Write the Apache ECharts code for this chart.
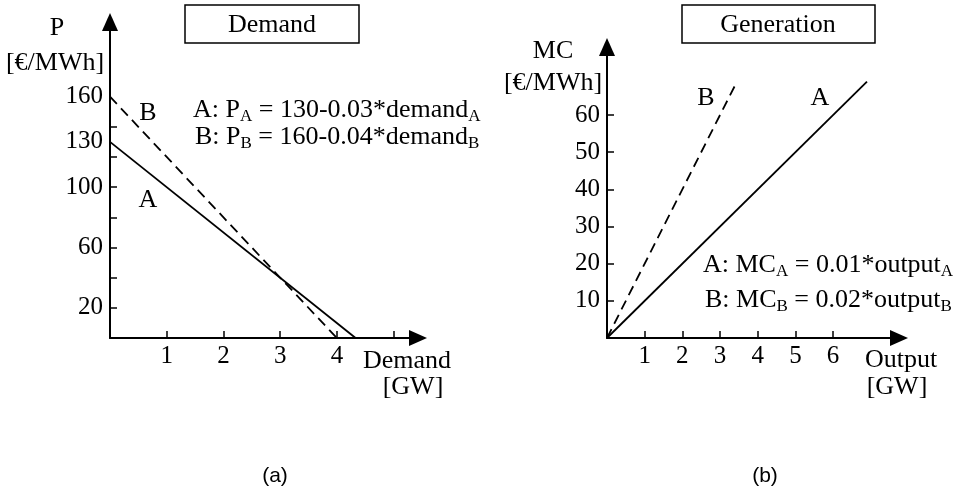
<!DOCTYPE html>
<html><head><meta charset="utf-8">
<script src="https://cdn.jsdelivr.net/npm/echarts@6/dist/echarts.min.js"></script>
<style>html,body{margin:0;padding:0;background:#fff}#c{width:971px;height:489px}</style>
</head><body><div id="c"></div>
<script>
// ---- data ----
const demandA = [0, 4.33];
const priceA = [130, 0];
const demandB = [0, 4];
const priceB = [160, 0];
const outputA = [0, 6.9];
const mcA = [0, 69];
const outputB = [0, 3.45];
const mcB = [0, 69];
const demandTicks = [1, 2, 3, 4, 5];
const demandTickLabels = [1, 2, 3, 4];
const priceTicks = [20, 40, 60, 80, 100, 120, 140];
const priceTickLabels = [20, 60, 100, 130, 160];
const outputTicks = [1, 2, 3, 4, 5, 6];
const outputTickLabels = [1, 2, 3, 4, 5, 6];
const mcTicks = [10, 20, 30, 40, 50, 60];
const mcTickLabels = [10, 20, 30, 40, 50, 60];

const SERIF = '"Liberation Serif", "Times New Roman", serif';
const pairs = (xs, ys) => xs.map((x, i) => [x, ys[i]]);

function mkAxis(gridIndex, max, ticks, labels, isX) {
  return {
    gridIndex, type: 'value', min: 0, max,
    axisLine: { show: true, onZero: true, symbol: ['none', 'triangle'], symbolSize: [16, 18],
      lineStyle: { color: '#000', width: 2 } },
    axisTick: { show: true, inside: true, length: 7, customValues: ticks,
      lineStyle: { color: '#000', width: 1.5 } },
    axisLabel: { show: true, customValues: labels, margin: isX ? 6 : 7, color: '#000',
      fontSize: 25, fontFamily: SERIF },
    splitLine: { show: false }
  };
}

function lineSeries(xi, xs, ys, dashed) {
  return {
    type: 'line', xAxisIndex: xi, yAxisIndex: xi, data: pairs(xs, ys),
    symbol: 'none', silent: true, animation: false,
    lineStyle: { color: '#000', width: 1.8, type: dashed ? [10, 6] : 'solid' }
  };
}

function txt(text, x, y, size, align, family) {
  return { type: 'text', silent: true, style: { text, x, y, fontSize: size || 26,
    fontFamily: family || SERIF, fill: '#000', align: align || 'center', verticalAlign: 'middle' } };
}
const rich = {
  m: { fontSize: 26, fontFamily: SERIF, color: '#000', lineHeight: 30 },
  s: { fontSize: 17, fontFamily: SERIF, color: '#000', lineHeight: 20, verticalAlign: 'bottom' }
};
function formula(text, x, y) {
  return { type: 'text', silent: true, style: { text, x, y, rich, fill: '#000',
    align: 'left', verticalAlign: 'middle' } };
}

const chart = echarts.init(document.getElementById('c'), null, { renderer: 'canvas' });
chart.setOption({
  animation: false,
  backgroundColor: '#fff',
  grid: [
    { left: 110, top: 22, width: 308, bottom: 151 },
    { left: 607, top: 47, width: 292, bottom: 151 }
  ],
  xAxis: [
    mkAxis(0, 5.43, demandTicks, demandTickLabels, true),
    mkAxis(1, 7.75, outputTicks, outputTickLabels, true)
  ],
  yAxis: [
    mkAxis(0, 209.5, priceTicks, priceTickLabels, false),
    mkAxis(1, 78.3, mcTicks, mcTickLabels, false)
  ],
  series: [
    lineSeries(0, demandA, priceA, false),
    lineSeries(0, demandB, priceB, true),
    lineSeries(1, outputA, mcA, false),
    lineSeries(1, outputB, mcB, true)
  ],
  graphic: [
    { type: 'rect', silent: true, shape: { x: 185, y: 5, width: 174, height: 38 },
      style: { fill: '#fff', stroke: '#000', lineWidth: 1.5 } },
    txt('Demand', 272, 25),
    { type: 'rect', silent: true, shape: { x: 682, y: 5, width: 193, height: 38 },
      style: { fill: '#fff', stroke: '#000', lineWidth: 1.5 } },
    txt('Generation', 778, 25),
    txt('P', 57, 28),
    txt('[€/MWh]', 55, 63),
    txt('MC', 553, 51),
    txt('[€/MWh]', 553, 83),
    txt('Demand', 407, 361),
    txt('[GW]', 413, 387),
    txt('Output', 901, 360),
    txt('[GW]', 897, 387),
    txt('B', 148, 113),
    txt('A', 148, 200),
    txt('B', 706, 98),
    txt('A', 820, 98),
    formula('{m|A: P}{s|A}{m| = 130-0.03*demand}{s|A}', 193, 110),
    formula('{m|B: P}{s|B}{m| = 160-0.04*demand}{s|B}', 195, 137),
    formula('{m|A: MC}{s|A}{m| = 0.01*output}{s|A}', 703, 265),
    formula('{m|B: MC}{s|B}{m| = 0.02*output}{s|B}', 705, 300),
    txt('(a)', 275, 476, 21, 'center', '"Liberation Sans", Arial, sans-serif'),
    txt('(b)', 765, 476, 21, 'center', '"Liberation Sans", Arial, sans-serif')
  ]
});
</script>
</body></html>
